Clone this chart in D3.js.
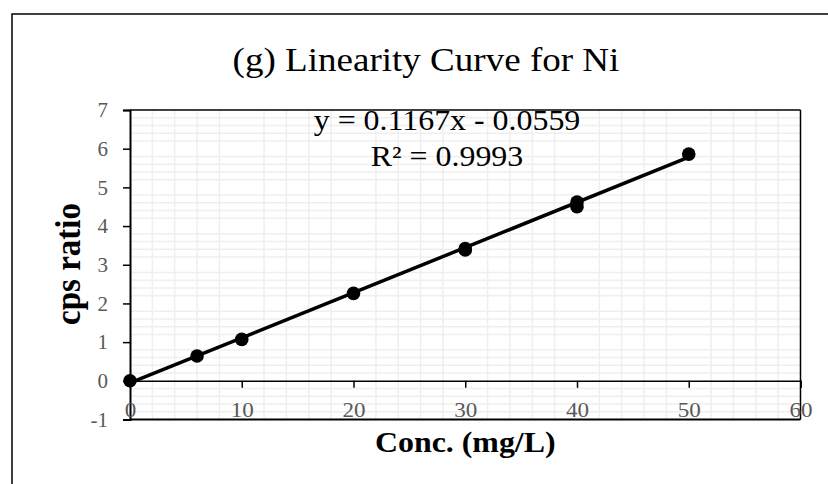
<!DOCTYPE html>
<html>
<head>
<meta charset="utf-8">
<script src="https://cdn.jsdelivr.net/npm/d3@7/dist/d3.min.js"></script>
<style>
  html, body { margin: 0; padding: 0; background: #fff; }
  svg { display: block; }
  text { font-family: "Liberation Serif", "Times New Roman", serif; }
</style>
</head>
<body>
<svg id="chart" width="828" height="484"></svg>
<script>
// ---- data ----
const concentrations = [0, 6, 10, 20, 30, 30, 40, 40, 50];
const cpsRatios      = [0, 0.64, 1.07, 2.26, 3.38, 3.42, 4.50, 4.62, 5.86];
const xTicks = [0, 10, 20, 30, 40, 50, 60];
const yTicks = [-1, 0, 1, 2, 3, 4, 5, 6, 7];
const trendSlope = 0.1167;
const trendIntercept = -0.0559;
const trendRange = [0, 50];
const titleText = "(g) Linearity Curve for Ni";
const eqText = "y = 0.1167x - 0.0559";
const r2Text = "R² = 0.9993";

const svg = d3.select("#chart");
const SX = 1.1; // horizontal stretch of the text in the reference

// outer frame
svg.append("rect").attr("x", 12).attr("y", 14).attr("width", 840).attr("height", 490)
  .attr("fill", "none").attr("stroke", "#000").attr("stroke-width", 1.5);

const pL = 130, pR = 800.5, pT = 110, pB = 419.5;
const x = d3.scaleLinear().domain([0, 60]).range([pL, pR]);
const y = d3.scaleLinear().domain([-1, 7]).range([pB, pT]);

// minor gridlines
const g = svg.append("g");
const xMinor = d3.range(2, 60, 2).filter(v => v % 10 !== 0);
const yMinor = d3.range(-0.8, 7, 0.2).map(v => Math.round(v * 10) / 10).filter(v => Math.abs(v - Math.round(v)) > 1e-6);
g.selectAll(".vx").data(xMinor).enter().append("line")
  .attr("x1", d => x(d)).attr("x2", d => x(d)).attr("y1", pT).attr("y2", pB)
  .attr("stroke", "#efefef").attr("stroke-width", 1.5);
g.selectAll(".hy").data(yMinor).enter().append("line")
  .attr("x1", pL).attr("x2", pR).attr("y1", d => y(d)).attr("y2", d => y(d))
  .attr("stroke", "#efefef").attr("stroke-width", 1.5);

// plot border top / right / bottom
svg.append("line").attr("x1", pL).attr("x2", pR).attr("y1", pT).attr("y2", pT)
  .attr("stroke", "#000").attr("stroke-width", 1.5);
svg.append("line").attr("x1", pR).attr("x2", pR).attr("y1", pT).attr("y2", pB)
  .attr("stroke", "#000").attr("stroke-width", 1.5);
svg.append("line").attr("x1", pL).attr("x2", pR).attr("y1", pB).attr("y2", pB)
  .attr("stroke", "#000").attr("stroke-width", 2);

const fmt = d => String(d); // plain hyphen for negatives

// y axis
const yAxis = d3.axisLeft(y).tickValues(yTicks).tickSize(7).tickPadding(15).tickFormat(fmt);
const ya = svg.append("g").attr("transform", `translate(${pL},0)`).call(yAxis);
ya.select(".domain").attr("stroke", "#000").attr("stroke-width", 2);
ya.selectAll(".tick line").attr("stroke", "#000").attr("stroke-width", 1.5);
ya.selectAll(".tick text").attr("fill", "#595959").style("font-size", "21px")
  .style("font-family", "'Liberation Serif', serif");

// x axis at y=0
const xAxis = d3.axisBottom(x).tickValues(xTicks).tickSize(7).tickPadding(14).tickFormat(fmt);
const xa = svg.append("g").attr("transform", `translate(0,${y(0)})`).call(xAxis);
xa.select(".domain").attr("stroke", "#000").attr("stroke-width", 1.5);
xa.selectAll(".tick line").attr("stroke", "#000").attr("stroke-width", 1.5);
xa.selectAll(".tick text").attr("fill", "#595959").style("font-size", "21px")
  .style("font-family", "'Liberation Serif', serif")
  .attr("transform", `scale(${SX},1)`);
xa.selectAll(".tick").filter(d => d === 0).select("line").remove();

// trendline
const trend = trendRange.map(v => [v, trendSlope * v + trendIntercept]);
svg.append("path").datum(trend)
  .attr("d", d3.line().x(d => x(d[0])).y(d => y(d[1])))
  .attr("stroke", "#000").attr("stroke-width", 3.5).attr("fill", "none");

// points
const pts = concentrations.map((c, i) => ({ c, v: cpsRatios[i] }));
svg.selectAll(".pt").data(pts).enter().append("circle")
  .attr("cx", d => x(d.c)).attr("cy", d => y(d.v)).attr("r", 6.8).attr("fill", "#000");

// texts
function label(tx, ty, txt, size, bold, sx) {
  return svg.append("text").attr("transform", `translate(${tx},${ty}) scale(${sx},1)`)
    .attr("text-anchor", "middle").style("font-size", size + "px")
    .style("font-weight", bold ? "bold" : "normal").attr("fill", "#000").text(txt);
}
label(426, 71, titleText, 34, false, 1.09);
label(447, 130, eqText, 29, false, SX);
label(447, 166, r2Text, 29, false, SX);
label((pL + pR) / 2, 452, "Conc. (mg/L)", 29, true, SX);

svg.append("text").attr("transform", `translate(80,264) rotate(-90) scale(1,${SX})`).attr("text-anchor", "middle")
  .style("font-size", "33px").style("font-weight", "bold").attr("fill", "#000").text("cps ratio");
</script>
</body>
</html>
